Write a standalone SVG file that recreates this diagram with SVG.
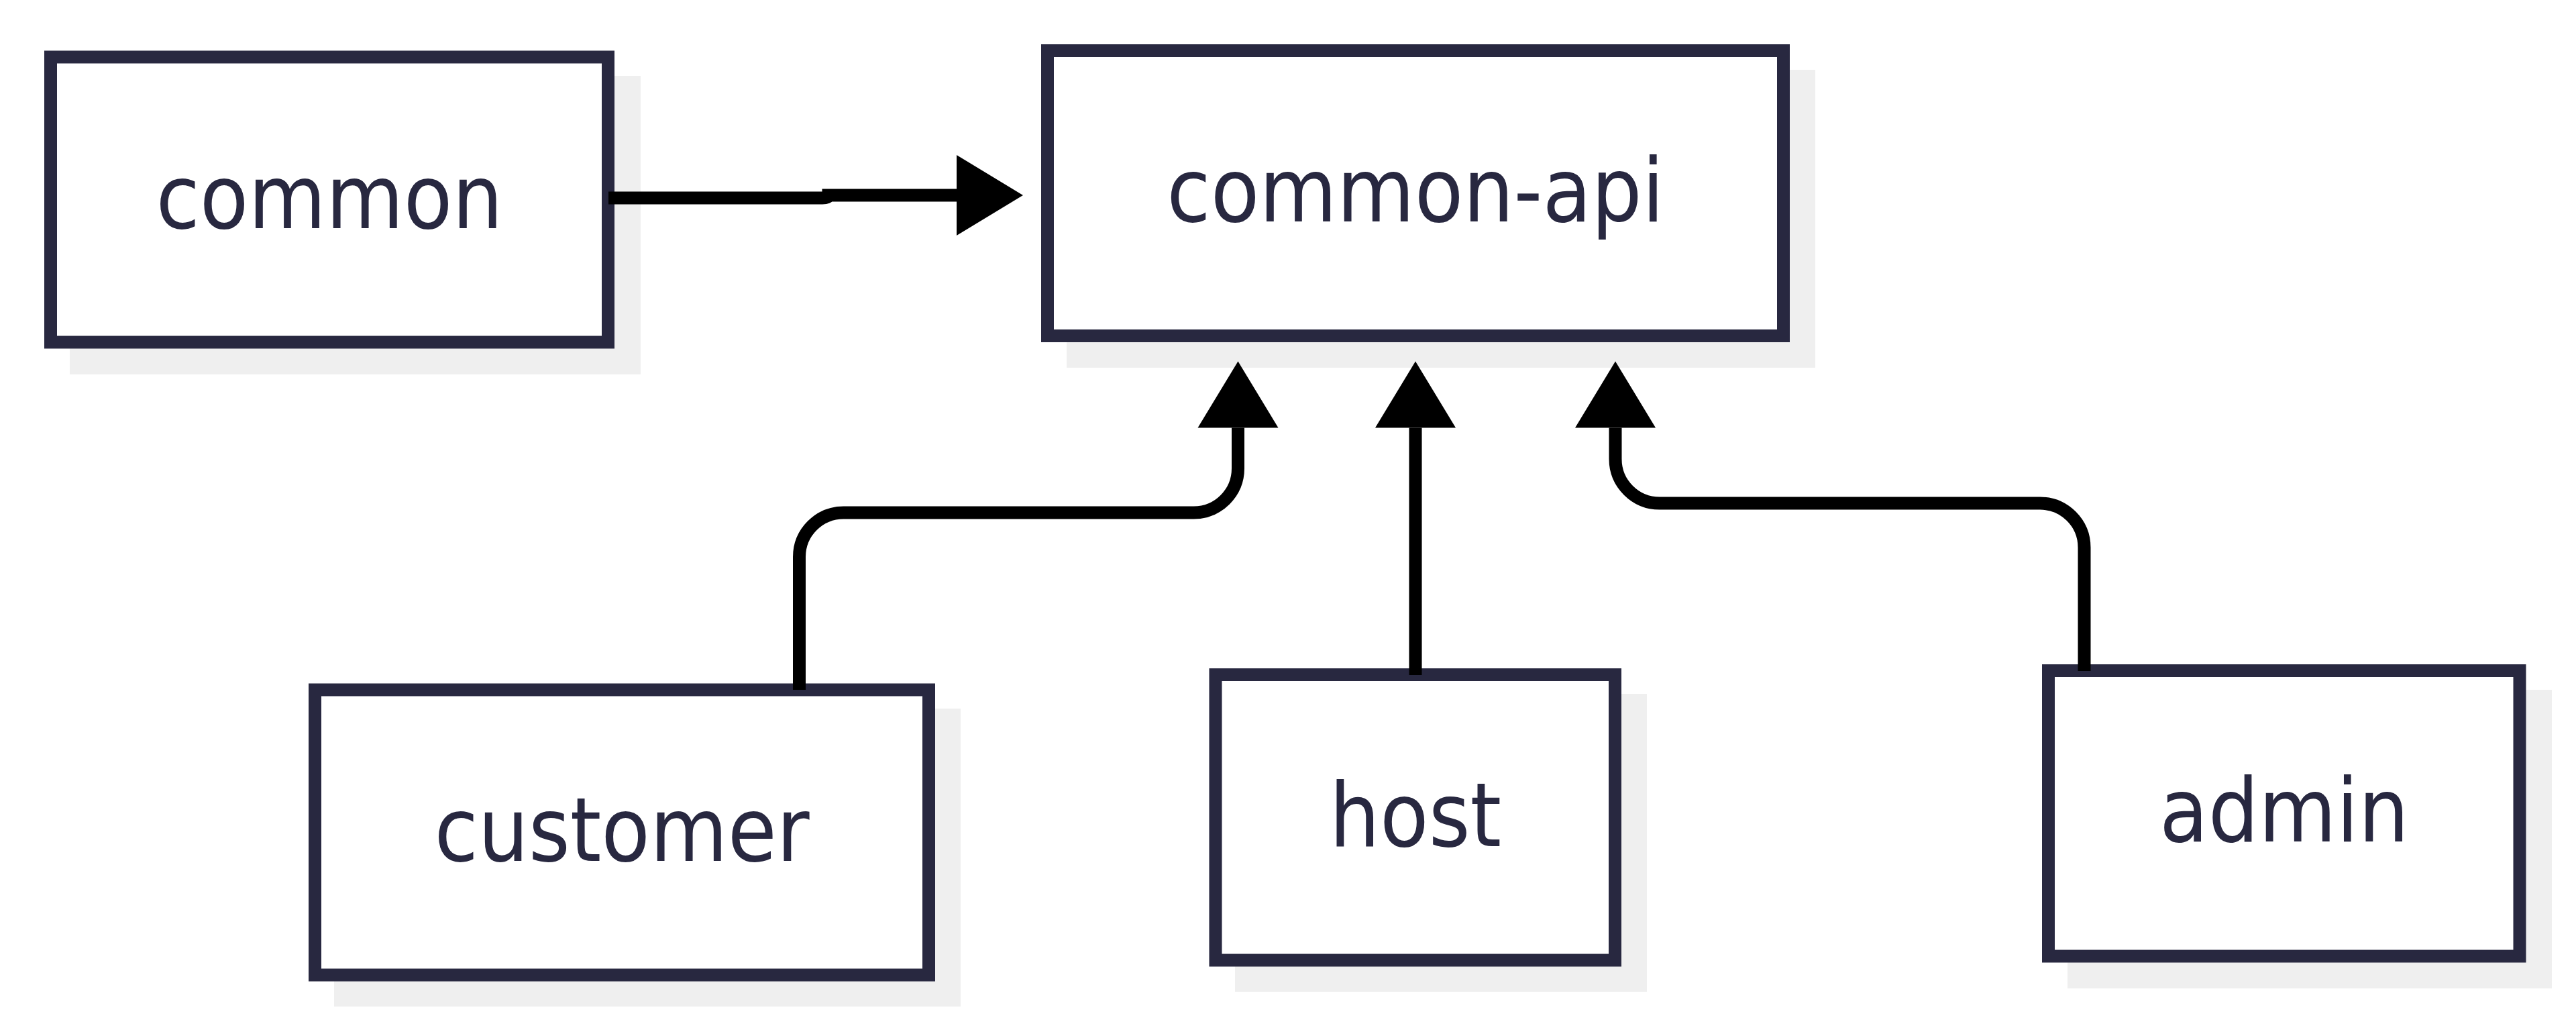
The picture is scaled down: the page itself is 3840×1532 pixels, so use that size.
<svg xmlns="http://www.w3.org/2000/svg" width="3840" height="1532" viewBox="0 0 3840 1532">
  <style>
    .shadow { fill: #efefef; }
    .box { fill: #ffffff; stroke: #282840; stroke-width: 19; }
    .label { font-family: "DejaVu Sans Condensed", "DejaVu Sans", sans-serif; font-stretch: condensed; font-size: 132px; fill: #282840; text-anchor: middle; }
    .edge { fill: none; stroke: #000000; stroke-width: 19; marker-end: url(#arrow); }
  </style>
  <defs>
    <marker id="arrow" markerUnits="userSpaceOnUse" viewBox="0 0 99 120" markerWidth="99" markerHeight="120" refX="0" refY="60" orient="auto" overflow="visible">
      <path d="M0,0 L99,60 L0,120 Z" fill="#000000"/>
    </marker>
  </defs>
  <rect width="3840" height="1532" fill="#ffffff"/>

  <g id="node-common">
    <rect class="shadow" x="104" y="113" width="851" height="445"/>
    <rect class="box" x="75.5" y="85" width="831" height="425"/>
    <text class="label" x="491" y="340">common</text>
  </g>

  <g id="node-common-api">
    <rect class="shadow" x="1590" y="104" width="1116" height="444"/>
    <rect class="box" x="1561.5" y="75.5" width="1097" height="425"/>
    <text class="label" x="2110" y="330">common-api</text>
  </g>

  <g id="node-customer">
    <rect class="shadow" x="498" y="1056" width="934" height="444"/>
    <rect class="box" x="469.5" y="1028" width="915" height="425"/>
    <text class="label" x="927" y="1283">customer</text>
  </g>

  <g id="node-host">
    <rect class="shadow" x="1841" y="1034" width="614" height="444"/>
    <rect class="box" x="1812" y="1005.5" width="595.5" height="425.5"/>
    <text class="label" x="2110" y="1261">host</text>
  </g>

  <g id="node-admin">
    <rect class="shadow" x="3082" y="1028" width="722" height="445"/>
    <rect class="box" x="3053.5" y="999.5" width="702.5" height="425.5"/>
    <text class="label" x="3405" y="1254">admin</text>
  </g>

  <g id="connectors">
    <path class="edge" d="M907,295 H1226 Q1235,295 1235,291 H1426"/>
    <path class="edge" d="M1191.5,1028 V830 A66,66 0 0 1 1257.5,764 H1779.5 A66,66 0 0 0 1845.5,698 V637.5"/>
    <path class="edge" d="M2110,1006 V637.5"/>
    <path class="edge" d="M3107,1000 V816 A66,66 0 0 0 3041,750 H2474 A66,66 0 0 1 2408,684 V637.5"/>
  </g>
</svg>
